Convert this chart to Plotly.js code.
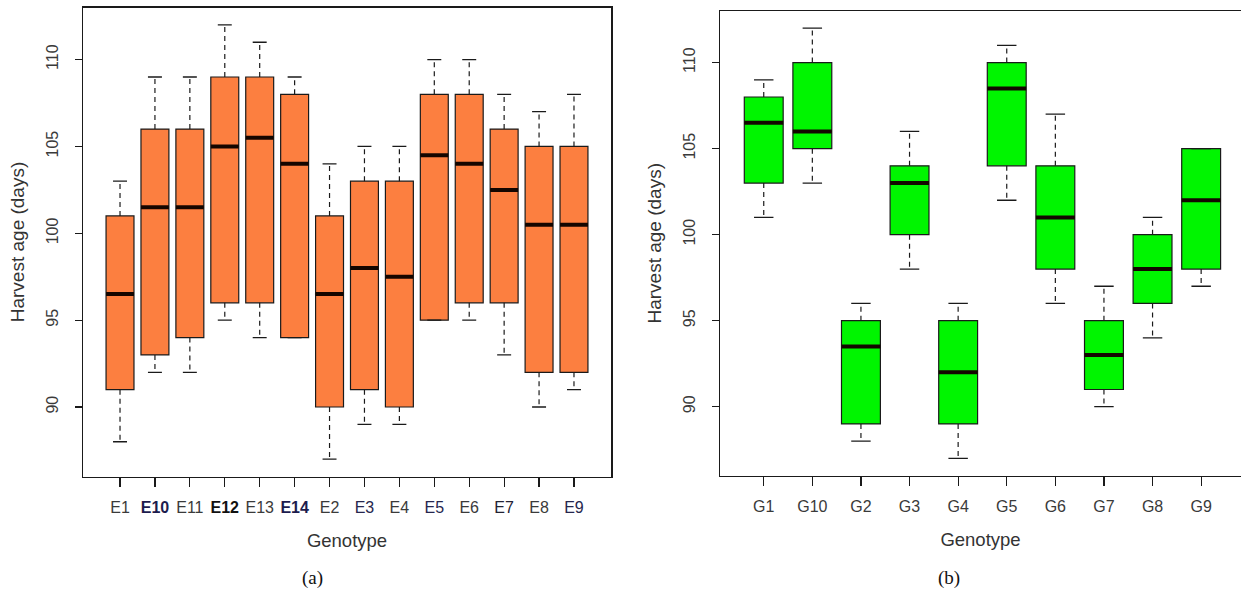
<!DOCTYPE html>
<html>
<head>
<meta charset="utf-8">
<script src="https://cdn.plot.ly/plotly-3.0.1.min.js"></script>
<style>
  html, body { margin: 0; padding: 0; background: #ffffff; }
  #chart { width: 1241px; height: 591px; }
</style>
</head>
<body>
<div id="chart"></div>
<script>
// ---------- Data: panel (a) ----------
const envLabels = ["E1","E10","E11","E12","E13","E14","E2","E3","E4","E5","E6","E7","E8","E9"];
const envLower  = [88, 92, 92, 95, 94, 94, 87, 89, 89, 95, 95, 93, 90, 91];
const envQ1     = [91, 93, 94, 96, 96, 94, 90, 91, 90, 95, 96, 96, 92, 92];
const envMedian = [96.5, 101.5, 101.5, 105, 105.5, 104, 96.5, 98, 97.5, 104.5, 104, 102.5, 100.5, 100.5];
const envQ3     = [101, 106, 106, 109, 109, 108, 101, 103, 103, 108, 108, 106, 105, 105];
const envUpper  = [103, 109, 109, 112, 111, 109, 104, 105, 105, 110, 110, 108, 107, 108];

// ---------- Data: panel (b) ----------
const genLabels = ["G1","G10","G2","G3","G4","G5","G6","G7","G8","G9"];
const genLower  = [101, 103, 88, 98, 87, 102, 96, 90, 94, 97];
const genQ1     = [103, 105, 89, 100, 89, 104, 98, 91, 96, 98];
const genMedian = [106.5, 106, 93.5, 103, 92, 108.5, 101, 93, 98, 102];
const genQ3     = [108, 110, 95, 104, 95, 110, 104, 95, 100, 105];
const genUpper  = [109, 112, 96, 106, 96, 111, 107, 97, 101, 105];

const yTickVals = [90, 95, 100, 105, 110];

// ---------- Styling ----------
const FONT = "Liberation Sans, Arial, sans-serif";
const ORANGE = "#FC7F40";
const GREEN = "#00F500";
const INK = "#1a1a1a";
const BOXW = 0.8;
// tick-label emphasis as seen in panel (a)
const envLabelStyle = {
  "E10": {bold: true, color: "#1c1c4e"},
  "E12": {bold: true, color: "#111111"},
  "E14": {bold: true, color: "#1c1c4e"},
  "E3": {bold: false, color: "#26264e"},
  "E5": {bold: false, color: "#26264e"},
  "E7": {bold: false, color: "#222233"},
  "E9": {bold: false, color: "#26264e"}
};

function styledLabel(lbl) {
  const s = envLabelStyle[lbl];
  if (!s) return lbl;
  let t = '<span style="color:' + s.color + '">' + lbl + '</span>';
  return s.bold ? '<b>' + t + '</b>' : t;
}

function panelTraces(n, lower, q1, med, q3, upper, fill, xa, ya) {
  const idx = [];
  for (let i = 0; i < n; i++) idx.push(i);
  const box = {
    type: "box", x: idx, q1: q1, median: med, q3: q3,
    lowerfence: q1, upperfence: q3,
    width: BOXW, fillcolor: fill,
    line: {color: INK, width: 1.2},
    boxpoints: false, whiskerwidth: 0,
    xaxis: xa, yaxis: ya, showlegend: false, hoverinfo: "skip"
  };
  const wx = [], wy = [], cx = [], cy = [], mx = [], my = [];
  const half = BOXW / 2, cap = BOXW / 4;
  for (let i = 0; i < n; i++) {
    wx.push(i, i, null, i, i, null);
    wy.push(q3[i], upper[i], null, q1[i], lower[i], null);
    cx.push(i - cap, i + cap, null, i - cap, i + cap, null);
    cy.push(upper[i], upper[i], null, lower[i], lower[i], null);
    mx.push(i - half, i + half, null);
    my.push(med[i], med[i], null);
  }
  const whiskers = {
    type: "scatter", mode: "lines", x: wx, y: wy, connectgaps: false,
    line: {color: INK, width: 1.2, dash: "5px,4px"},
    xaxis: xa, yaxis: ya, showlegend: false, hoverinfo: "skip"
  };
  const caps = {
    type: "scatter", mode: "lines", x: cx, y: cy, connectgaps: false,
    line: {color: INK, width: 1.3},
    xaxis: xa, yaxis: ya, showlegend: false, hoverinfo: "skip"
  };
  const medians = {
    type: "scatter", mode: "lines", x: mx, y: my, connectgaps: false,
    line: {color: "#140600", width: 4},
    xaxis: xa, yaxis: ya, showlegend: false, hoverinfo: "skip"
  };
  return [box, whiskers, caps, medians];
}

const traces = []
  .concat(panelTraces(envLabels.length, envLower, envQ1, envMedian, envQ3, envUpper, ORANGE, "x", "y"))
  .concat(panelTraces(genLabels.length, genLower, genQ1, genMedian, genQ3, genUpper, GREEN, "x2", "y2"));

const tickFont = {family: FONT, size: 16, color: "#3a3a3a"};
const titleFont = {family: FONT, size: 18.5, color: "#333333"};

function xAxis(domain, range, labels, ticktext, mirror) {
  return {
    domain: domain, range: range, type: "linear",
    tickmode: "array", tickvals: labels.map((_, i) => i), ticktext: ticktext,
    ticks: "outside", ticklen: 9, tickwidth: 1.2, tickcolor: INK,
    showline: true, linecolor: INK, linewidth: 1.5, mirror: mirror,
    showgrid: false, zeroline: false, fixedrange: true,
    tickfont: tickFont, ticklabelstandoff: 7,
    title: {text: "Genotype", font: titleFont, standoff: 19}
  };
}
function yAxis(domain, anchor, mirror) {
  return {
    domain: domain, range: [86, 113], anchor: anchor,
    tickmode: "array", tickvals: yTickVals, ticktext: yTickVals.map(String),
    ticks: "outside", ticklen: 7, tickwidth: 1.2, tickcolor: INK,
    tickangle: -90,
    showline: true, linecolor: INK, linewidth: 1.5, mirror: mirror,
    showgrid: false, zeroline: false, fixedrange: true,
    tickfont: tickFont, ticklabelstandoff: 10,
    title: {text: "Harvest age (days)", font: {family: FONT, size: 19, color: "#333333"}, standoff: 14}
  };
}

const layout = {
  width: 1241, height: 591,
  margin: {l: 0, r: 0, t: 0, b: 0},
  paper_bgcolor: "#ffffff", plot_bgcolor: "#ffffff",
  showlegend: false,
  boxmode: "overlay",
  xaxis: Object.assign(xAxis([83/1241, 611/1241], [-1.06, 14.06], envLabels, envLabels.map(styledLabel), true), {anchor: "y"}),
  yaxis: yAxis([(591-476.5)/591, (591-7.5)/591], "x", true),
  xaxis2: Object.assign(xAxis([720/1241, 1], [-0.9, 9.82], genLabels, genLabels, true), {anchor: "y2"}),
  yaxis2: yAxis([(591-475.5)/591, (591-11)/591], "x2", false),
  annotations: [
    {text: "(a)", xref: "paper", yref: "paper", x: 312/1241, y: (591-578)/591,
     xanchor: "center", yanchor: "middle", showarrow: false,
     font: {family: "Liberation Serif, Times New Roman, serif", size: 19, color: "#111111"}},
    {text: "(b)", xref: "paper", yref: "paper", x: 949/1241, y: (591-578)/591,
     xanchor: "center", yanchor: "middle", showarrow: false,
     font: {family: "Liberation Serif, Times New Roman, serif", size: 19, color: "#111111"}}
  ]
};

Plotly.newPlot("chart", traces, layout, {staticPlot: true, displayModeBar: false});
</script>
</body>
</html>
